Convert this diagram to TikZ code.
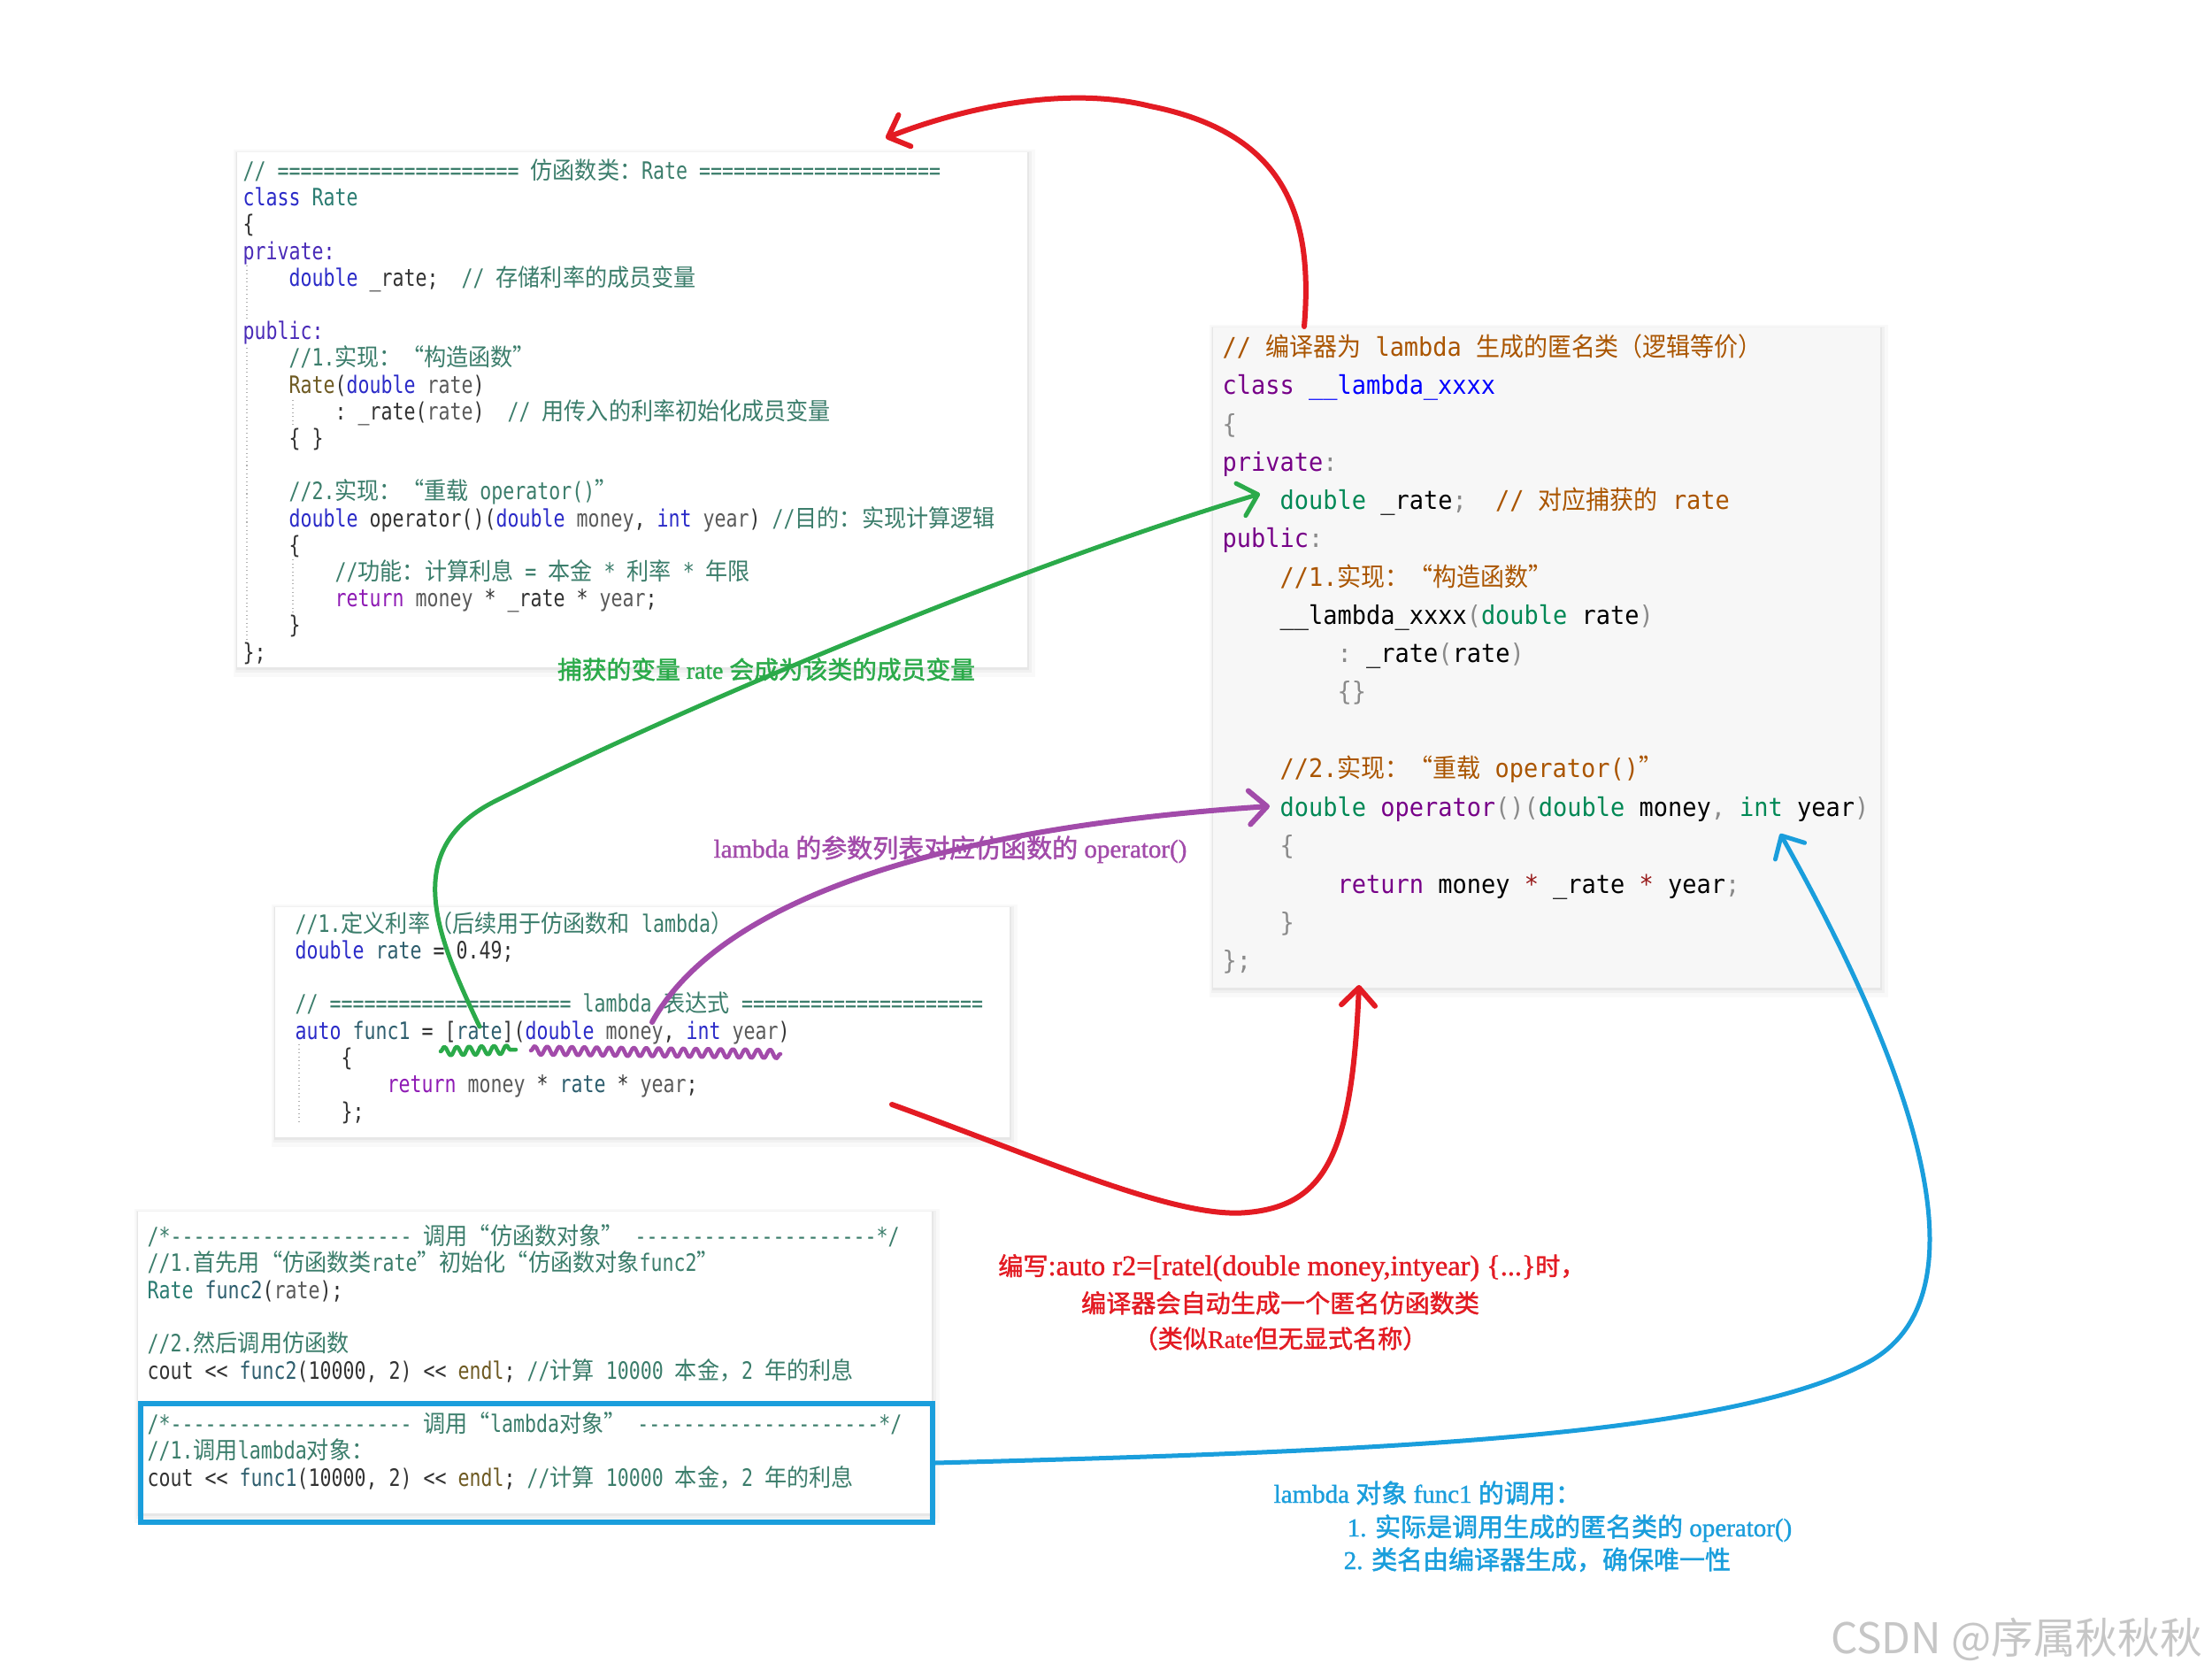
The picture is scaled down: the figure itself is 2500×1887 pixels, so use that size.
\documentclass[tikz,border=0pt]{standalone}
\usepackage{fontspec}
\setmainfont{Liberation Serif}
\newfontfamily\cmono[FakeStretch=0.8]{DejaVu Sans Mono}
\newfontfamily\rmono[FakeStretch=0.93]{DejaVu Sans Mono}
\newfontfamily\cjka[FakeStretch=0.93]{Noto Sans CJK SC}
\newfontfamily\cjkL[FakeBold=1.6]{Noto Sans CJK SC}
\newfontfamily\latL[FakeBold=1.2]{Liberation Serif}
\newfontfamily\cjkW{Noto Sans CJK SC}
\usetikzlibrary{arrows.meta,decorations.pathmorphing}

\definecolor{vsCom}{HTML}{3B7D6B}
\definecolor{vsKw}{HTML}{2B2BC8}
\definecolor{vsPv}{HTML}{4A2BB8}
\definecolor{vsRet}{HTML}{8E1AB4}
\definecolor{vsTy}{HTML}{2B7C72}
\definecolor{vsFn}{HTML}{6E5A22}
\definecolor{vsPl}{HTML}{333333}
\definecolor{vsPa}{HTML}{5A5A5A}
\definecolor{vsVr}{HTML}{2E5E6E}
\definecolor{cmCom}{HTML}{AA5500}
\definecolor{cmKw}{HTML}{770088}
\definecolor{cmDf}{HTML}{0000FF}
\definecolor{cmTy}{HTML}{008855}
\definecolor{cmPu}{HTML}{8A8A8A}
\definecolor{cmOp}{HTML}{981A1A}
\definecolor{arRed}{HTML}{E31B23}
\definecolor{arGreen}{HTML}{2BAA4A}
\definecolor{arPurple}{HTML}{A24BAA}
\definecolor{arBlue}{HTML}{1A9EDC}
\definecolor{boxBg}{HTML}{F7F7F7}

\newcommand\cZ[1]{{\cjka #1}}
\newcommand\cL[1]{{\cjkL #1}}
\newcommand\cK[1]{\textcolor{vsKw}{#1}}
\newcommand\cP[1]{\textcolor{vsPa}{#1}}
\newcommand\cV[1]{\textcolor{vsVr}{#1}}
\newcommand\cC[1]{\textcolor{vsCom}{#1}}
\newcommand\mK[1]{\textcolor{cmKw}{#1}}
\newcommand\mT[1]{\textcolor{cmTy}{#1}}
\newcommand\mP[1]{\textcolor{cmPu}{#1}}
\newcommand\softsh[4]{%
  \fill[black,opacity=0.025] (#1-4,#2-3) rectangle (#3+9,#4+11);
  \fill[black,opacity=0.03] (#1-2,#2-1) rectangle (#3+5,#4+6);
  \fill[black,opacity=0.04] (#1-1,#2) rectangle (#3+2,#4+3);}

\tikzset{
  ca/.style={anchor=base west, inner sep=0pt, text=vsPl, font=\cmono\fontsize{7.68pt}{9pt}\selectfont\frenchspacing},
  cb/.style={anchor=base west, inner sep=0pt, text=black, font=\rmono\fontsize{8.25pt}{10pt}\selectfont\frenchspacing},
  panel/.style={fill=white, draw=none, inner sep=0pt, outer sep=0pt},
  guide/.style={draw=gray!60, densely dotted, line width=0.3pt},
  hand/.style={line cap=round, line join=round},
  tipA/.style={-{Straight Barb[length=2mm,width=3.8mm,round]}},
  redA/.style={hand, tipA, draw=arRed, line width=0.6mm},
  greenA/.style={hand, tipA, draw=arGreen, line width=0.5mm},
  purpleA/.style={hand, tipA, draw=arPurple, line width=0.6mm},
  blueA/.style={hand, tipA, draw=arBlue, line width=0.5mm},
  lbl/.style={anchor=base, inner sep=0pt},
  lblw/.style={anchor=base west, inner sep=0pt},
}

\begin{document}
\begin{tikzpicture}[x=0.1mm, y=-0.1mm]
\useasboundingbox (0,0) rectangle (2500,1887);
\fill[white] (0,0) rectangle (2500,1887);

% ---------- panels ----------
\softsh{268}{172}{1161}{754}
\node[panel, minimum width=89.3mm, minimum height=58.2mm] (boxA) at (714.5,463) {};
\softsh{1371}{370}{2125}{1116}
\node[panel, fill=boxBg, minimum width=75.4mm, minimum height=74.6mm] (boxR) at (1748,743) {};
\softsh{311}{1025}{1141}{1285}
\node[panel, minimum width=83.0mm, minimum height=26.0mm] (boxB) at (726,1155) {};
\softsh{156}{1369}{1053}{1710}
\node[panel, minimum width=89.7mm, minimum height=34.1mm] (boxD) at (604.5,1539.5) {};

% ---------- box A : class Rate ----------
\draw[guide] (279,300) -- (279,362);
\draw[guide] (279,393) -- (279,722);
\draw[guide] (331,452) -- (331,480);
\draw[guide] (331,632) -- (331,692);
\node[ca, text=vsCom] (a0) at (274,203) {// ===================== \cZ{仿函数类：}Rate =====================};
\node[ca] (a1) at (274,233) {\cK{class} \textcolor{vsTy}{Rate}};
\node[ca] (a2) at (274,263) {\{};
\node[ca] (a3) at (274,294) {\textcolor{vsPv}{private:}};
\node[ca] (a4) at (326,324) {\cK{double} \_rate;~~\cC{// \cZ{存储利率的成员变量}}};
\node[ca] (a6) at (274,384) {\textcolor{vsPv}{public:}};
\node[ca, text=vsCom] (a7) at (326,414) {//1.\cZ{实现：“构造函数”}};
\node[ca] (a8) at (326,445) {\textcolor{vsFn}{Rate}(\cK{double} \cP{rate})};
\node[ca] (a9) at (378,475) {: \_rate(\cP{rate})~~\cC{// \cZ{用传入的利率初始化成员变量}}};
\node[ca] (a10) at (326,505) {\{ \}};
\node[ca, text=vsCom] (a12) at (326,565) {//2.\cZ{实现：“重载} operator()\cZ{”}};
\node[ca] (a13) at (326,596) {\cK{double} operator()(\cK{double} \cP{money}, \cK{int} \cP{year}) \cC{//\cZ{目的：实现计算逻辑}}};
\node[ca] (a14) at (326,626) {\{};
\node[ca, text=vsCom] (a15) at (378,656) {//\cZ{功能：计算利息} = \cZ{本金} * \cZ{利率} * \cZ{年限}};
\node[ca] (a16) at (378,686) {\textcolor{vsRet}{return} \cP{money} * \_rate * \cP{year};};
\node[ca] (a17) at (326,716) {\}};
\node[ca] (a18) at (274,747) {\};};

% ---------- box R : generated class ----------
\node[cb, text=cmCom] (r0) at (1381,403) {// \cZ{编译器为} lambda \cZ{生成的匿名类（逻辑等价）}};
\node[cb] (r1) at (1381,446) {\mK{class} \textcolor{cmDf}{\_\_lambda\_xxxx}};
\node[cb] (r2) at (1381,490) {\mP{\{}};
\node[cb] (r3) at (1381,533) {\mK{private}\mP{:}};
\node[cb] (r4) at (1446,576) {\mT{double} \_rate\mP{;}~~\textcolor{cmCom}{// \cZ{对应捕获的} rate}};
\node[cb] (r5) at (1381,619) {\mK{public}\mP{:}};
\node[cb, text=cmCom] (r6) at (1446,663) {//1.\cZ{实现：“构造函数”}};
\node[cb] (r7) at (1446,706) {\_\_lambda\_xxxx\mP{(}\mT{double} rate\mP{)}};
\node[cb] (r8) at (1511,749) {\mP{:} \_rate\mP{(}rate\mP{)}};
\node[cb] (r9) at (1511,792) {\mP{\{\}}};
\node[cb, text=cmCom] (r11) at (1446,879) {//2.\cZ{实现：“重载} operator()\cZ{”}};
\node[cb] (r12) at (1446,922) {\mT{double} \mK{operator}\mP{()(}\mT{double} money\mP{,} \mT{int} year\mP{)}};
\node[cb] (r13) at (1446,965) {\mP{\{}};
\node[cb] (r14) at (1511,1009) {\mK{return} money \textcolor{cmOp}{*} \_rate \textcolor{cmOp}{*} year\mP{;}};
\node[cb] (r15) at (1446,1052) {\mP{\}}};
\node[cb] (r16) at (1381,1095) {\mP{\};}};

% ---------- box B : lambda ----------
\draw[guide] (338,1180) -- (338,1270);
\node[ca, text=vsCom] (b0) at (333,1053) {//1.\cZ{定义利率（后续用于仿函数和} lambda\cZ{）}};
\node[ca] (b1) at (333,1083) {\cK{double} \cV{rate} = 0.49;};
\node[ca, text=vsCom] (b3) at (333,1143) {// ===================== lambda \cZ{表达式} =====================};
\node[ca] (b4) at (333,1174) {\cK{auto} \cV{func1} = [\cV{rate}](\cK{double} \cP{money}, \cK{int} \cP{year})};
\node[ca] (b5) at (385,1204) {\{};
\node[ca] (b6) at (437,1234) {\textcolor{vsRet}{return} \cP{money} * \cV{rate} * \cP{year};};
\node[ca] (b7) at (385,1265) {\};};

% ---------- box D : calls ----------
\node[ca, text=vsCom] (d0) at (166,1406) {/*--------------------- \cZ{调用“仿函数对象”} ---------------------*/};
\node[ca, text=vsCom] (d1) at (166,1436) {//1.\cZ{首先用“仿函数类}rate\cZ{”初始化“仿函数对象}func2\cZ{”}};
\node[ca] (d2) at (166,1467) {\textcolor{vsTy}{Rate} \cV{func2}(\cP{rate});};
\node[ca, text=vsCom] (d4) at (166,1527) {//2.\cZ{然后调用仿函数}};
\node[ca] (d5) at (166,1558) {cout << \cV{func2}(10000, 2) << \textcolor{vsFn}{endl}; \cC{//\cZ{计算} 10000 \cZ{本金，}2 \cZ{年的利息}}};
\node[ca, text=vsCom] (d7) at (166,1618) {/*--------------------- \cZ{调用“}lambda\cZ{对象”} ---------------------*/};
\node[ca, text=vsCom] (d8) at (166,1648) {//1.\cZ{调用}lambda\cZ{对象：}};
\node[ca] (d9) at (166,1679) {cout << \cV{func1}(10000, 2) << \textcolor{vsFn}{endl}; \cC{//\cZ{计算} 10000 \cZ{本金，}2 \cZ{年的利息}}};
\node[draw=arBlue, line width=0.6mm, inner sep=0pt, minimum width=89.5mm, minimum height=13.4mm] (callbox) at (606.5,1653) {};

% ---------- labels ----------
\node[lbl, text=arGreen, font=\latL\fontsize{7.9pt}{9pt}\selectfont] (lg) at (866,767) {\cL{捕获的变量} rate \cL{会成为该类的成员变量}};
\node[lbl, text=arPurple, font=\latL\fontsize{8.25pt}{10pt}\selectfont] (lp) at (1074,969) {lambda \cL{的参数列表对应仿函数的} operator()};
\node[lbl, text=arRed, font=\latL\fontsize{8pt}{10pt}\selectfont] (lr1) at (1460,1441) {\cL{编写}{\fontsize{9.2pt}{10pt}\selectfont:auto r2=[ratel(double money,intyear) \{...\}}\cL{时，}};
\node[lbl, text=arRed, font=\latL\fontsize{8pt}{10pt}\selectfont] (lr2) at (1447,1483) {\cL{编译器会自动生成一个匿名仿函数类}};
\node[lbl, text=arRed, font=\latL\fontsize{8pt}{10pt}\selectfont] (lr3) at (1447,1523) {\cL{（类似}Rate\cL{但无显式名称）}};
\node[lblw, text=arBlue, font=\latL\fontsize{8.25pt}{10pt}\selectfont] (lb1) at (1439,1698) {lambda \cL{对象} func1 \cL{的调用：}};
\node[lblw, text=arBlue, font=\latL\fontsize{8.25pt}{10pt}\selectfont] (lb2) at (1522,1736) {1. \cL{实际是调用生成的匿名类的} operator()};
\node[lblw, text=arBlue, font=\latL\fontsize{8.25pt}{10pt}\selectfont] (lb3) at (1518,1773) {2. \cL{类名由编译器生成，确保唯一性}};
\node[anchor=base east, inner sep=0pt, text=gray!45, font=\cjkW\fontsize{13.6pt}{16pt}\selectfont] (wm) at (2490,1868) {CSDN @序属秋秋秋};

% ---------- connector end points ----------
\coordinate (rtS) at (1474,369);
\coordinate (rtE) at (1001,156);
\coordinate (gS) at (542,1160);
\coordinate (gE) at (1424,558);
\coordinate (pS) at (737,1155);
\coordinate (pE) at (1435,911);
\coordinate (rbS) at (1008,1248);
\coordinate (rbE) at (1536,1113);
\coordinate (bE) at (2012,942);
\coordinate (sq1a) at (498,1188);
\coordinate (sq1b) at (583,1186);
\coordinate (sq2a) at (600,1187);
\coordinate (sq2b) at (882,1191);

% ---------- squiggles ----------
\draw[arGreen, line width=0.45mm, hand, decorate, decoration={snake, amplitude=0.5mm, segment length=1.4mm}] (sq1a) -- (sq1b);
\draw[arPurple, line width=0.45mm, hand, decorate, decoration={snake, amplitude=0.5mm, segment length=1.4mm}] (sq2a) -- (sq2b);

% ---------- connectors ----------
\draw[redA] (rtS) .. controls (1485,240) and (1450,150) .. (1300,120) .. controls (1200,95) and (1080,125) .. (rtE);
\draw[greenA] (gS) .. controls (495,1060) and (450,960) .. (560,905) .. controls (780,795) and (1150,640) .. (gE);
\draw[purpleA] (pS) .. controls (800,1040) and (1000,940) .. (pE);
\draw[redA] (rbS) .. controls (1180,1310) and (1330,1378) .. (1410,1370) .. controls (1500,1362) and (1528,1300) .. (rbE);
\draw[blueA] (callbox.east) .. controls (1550,1640) and (1950,1625) .. (2110,1540) .. controls (2238,1472) and (2185,1250) .. (bE);
\end{tikzpicture}
\end{document}
